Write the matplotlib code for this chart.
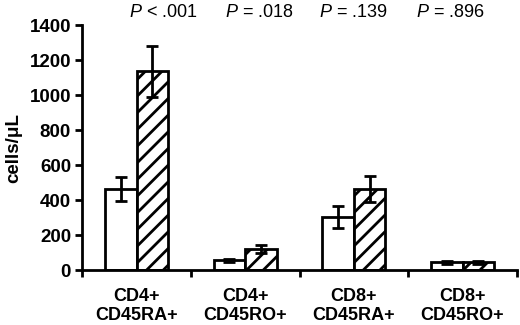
import numpy as np
import matplotlib.pyplot as plt

plt.rcParams['font.family'] = ['Liberation Sans', 'DejaVu Sans']
plt.rcParams['mathtext.fontset'] = 'custom'
plt.rcParams['mathtext.it'] = 'Liberation Sans:italic'
plt.rcParams['mathtext.rm'] = 'Liberation Sans'
plt.rcParams['hatch.linewidth'] = 2.0

categories = ['CD4+\nCD45RA+', 'CD4+\nCD45RO+', 'CD8+\nCD45RA+', 'CD8+\nCD45RO+']
open_vals = [462, 55, 305, 45]
open_err = [70, 10, 62, 8]
hatch_vals = [1135, 120, 465, 45]
hatch_err = [145, 25, 75, 8]
p_labels = ['< .001', '= .018', '= .139', '= .896']
p_offsets = [0.25, 0.13, 0.0, -0.11]
yticks = [0, 200, 400, 600, 800, 1000, 1200, 1400]

fig = plt.figure(figsize=(5.2, 3.25), dpi=100)
ax = fig.add_axes([0.158, 0.169, 0.836, 0.754])

x = np.arange(len(categories))
w = 0.29
err_kw = dict(ecolor='black', elinewidth=2, capsize=4.5, capthick=2)
ax.bar(x - w / 2, open_vals, w, yerr=open_err, color='white',
       edgecolor='black', linewidth=2, error_kw=err_kw, zorder=2)
ax.bar(x + w / 2, hatch_vals, w, yerr=hatch_err, color='white',
       edgecolor='black', linewidth=2, hatch='//', error_kw=err_kw, zorder=2)

ax.set_xlim(-0.5, 3.5)
ax.set_ylim(0, 1400)
ax.spines['top'].set_visible(False)
ax.spines['right'].set_visible(False)
ax.spines['left'].set_linewidth(2)
ax.spines['bottom'].set_linewidth(2)

ax.set_yticks(yticks)
ax.set_yticklabels([str(v) for v in yticks], fontsize=13.5, fontweight='bold')
ax.tick_params(axis='y', length=5, width=2, pad=3)

ax.set_xticks(np.arange(len(categories) + 1) - 0.5)
ax.set_xticklabels([])
ax.tick_params(axis='x', which='major', length=5, width=2)
ax.set_xticks(x, minor=True)
ax.set_xticklabels(categories, minor=True, fontsize=13, fontweight='bold',
                   linespacing=1.15)
ax.tick_params(axis='x', which='minor', length=0, pad=13)

ax.set_ylabel('cells/μL', fontsize=13.5, fontweight='bold', labelpad=5)

for i, (lab, off) in enumerate(zip(p_labels, p_offsets)):
    ax.text(i + off, 1470, r'$\it{P}$ ' + lab, ha='center', va='center',
            fontsize=13, clip_on=False)

fig.savefig('out.png', dpi=100)
